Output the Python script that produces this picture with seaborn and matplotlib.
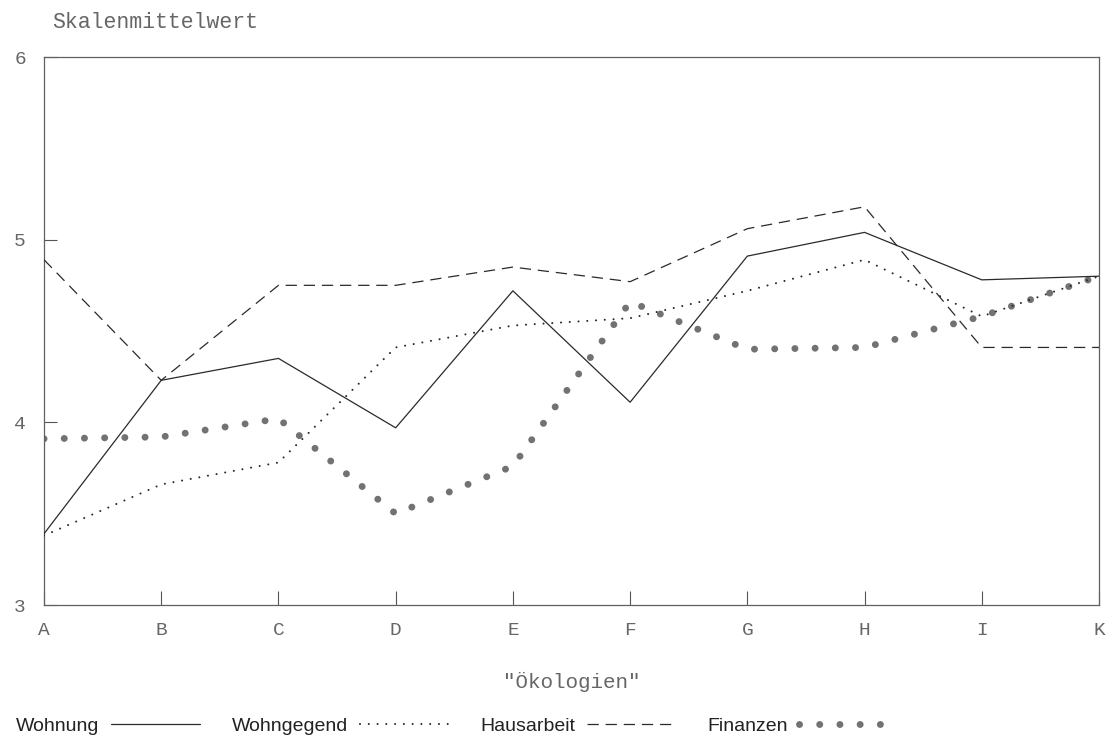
import numpy as np
import pandas as pd
import matplotlib
matplotlib.use("Agg")
import matplotlib.pyplot as plt
import seaborn as sns

categories = ["A", "B", "C", "D", "E", "F", "G", "H", "I", "K"]
wohnung = [3.39, 4.23, 4.35, 3.97, 4.72, 4.11, 4.91, 5.04, 4.78, 4.80]
wohngegend = [3.38, 3.66, 3.78, 4.41, 4.53, 4.57, 4.72, 4.89, 4.58, 4.80]
hausarbeit = [4.89, 4.23, 4.75, 4.75, 4.85, 4.77, 5.06, 5.18, 4.41, 4.41]
finanzen = [3.91, 3.92, 4.02, 3.50, 3.76, 4.66, 4.40, 4.41, 4.58, 4.80]
yticks = [3, 4, 5, 6]
series_names = ["Wohnung", "Wohngegend", "Hausarbeit", "Finanzen"]

sns.set_theme(style="white")
plt.rcParams["font.family"] = ["Liberation Sans", "DejaVu Sans"]

df = pd.DataFrame({"pos": np.arange(len(categories)), "cat": categories,
                   "Wohnung": wohnung, "Wohngegend": wohngegend,
                   "Hausarbeit": hausarbeit, "Finanzen": finanzen})

fig = plt.figure(figsize=(11.11, 7.38), dpi=100)
ax = fig.add_axes([44 / 1111, 1 - 605 / 738, (1099 - 44) / 1111, (605 - 57) / 738])

styles = {
    "Finanzen": dict(color="#727272", lw=5.0, linestyle=(0, (0.01, 2.9)),
                     dash_capstyle="round", zorder=2),
    "Wohnung": dict(color="#2a2a2a", lw=0.9, linestyle="-", zorder=3),
    "Wohngegend": dict(color="#2a2a2a", lw=1.5, linestyle=(0, (0.01, 4.2)),
                       dash_capstyle="round", zorder=3),
    "Hausarbeit": dict(color="#2a2a2a", lw=0.9, linestyle=(0, (9, 5.5)), zorder=3),
}
for name in ["Finanzen", "Wohnung", "Wohngegend", "Hausarbeit"]:
    sns.lineplot(data=df, x="pos", y=name, ax=ax, label=name, **styles[name])

ax.set_xlim(0, len(categories) - 1)
ax.set_ylim(3, 6)
ax.set_xticks(df["pos"])
ax.set_xticklabels(categories)
ax.set_yticks(yticks)
ax.set_yticklabels([str(v) for v in yticks])

mono = ["Liberation Mono", "DejaVu Sans Mono"]
for lbl in ax.get_xticklabels() + ax.get_yticklabels():
    lbl.set_family(mono)
    lbl.set_fontsize(14)
    lbl.set_color("#666666")
ax.tick_params(axis="x", direction="in", length=10, width=0.8, color="#555555",
               pad=12, bottom=True)
ax.tick_params(axis="y", direction="in", length=9, width=0.8, color="#555555",
               pad=13, left=True)
for sp in ax.spines.values():
    sp.set_color("#606060")
    sp.set_linewidth(0.9)

ax.set_ylabel("")
ax.set_xlabel('"Ökologien"', family=mono, fontsize=15, color="#666666", labelpad=24)
fig.text(52 / 1111, 1 - 22 / 738, "Skalenmittelwert", family=mono, fontsize=15.5,
         color="#666666", ha="left", va="center")

handles, labels = ax.get_legend_handles_labels()
order = [labels.index(n) for n in series_names]
ax.get_legend().remove()
fig.legend([handles[i] for i in order], [labels[i] for i in order],
           loc="center left", bbox_to_anchor=(16 / 1111, 1 - 726 / 738),
           ncol=4, frameon=False, markerfirst=False, handlelength=4.6,
           handletextpad=0.6, columnspacing=1.6, borderpad=0, borderaxespad=0,
           prop={"family": ["Liberation Sans", "DejaVu Sans"], "size": 14},
           labelcolor="#222222")

fig.savefig("out.png", dpi=100)
